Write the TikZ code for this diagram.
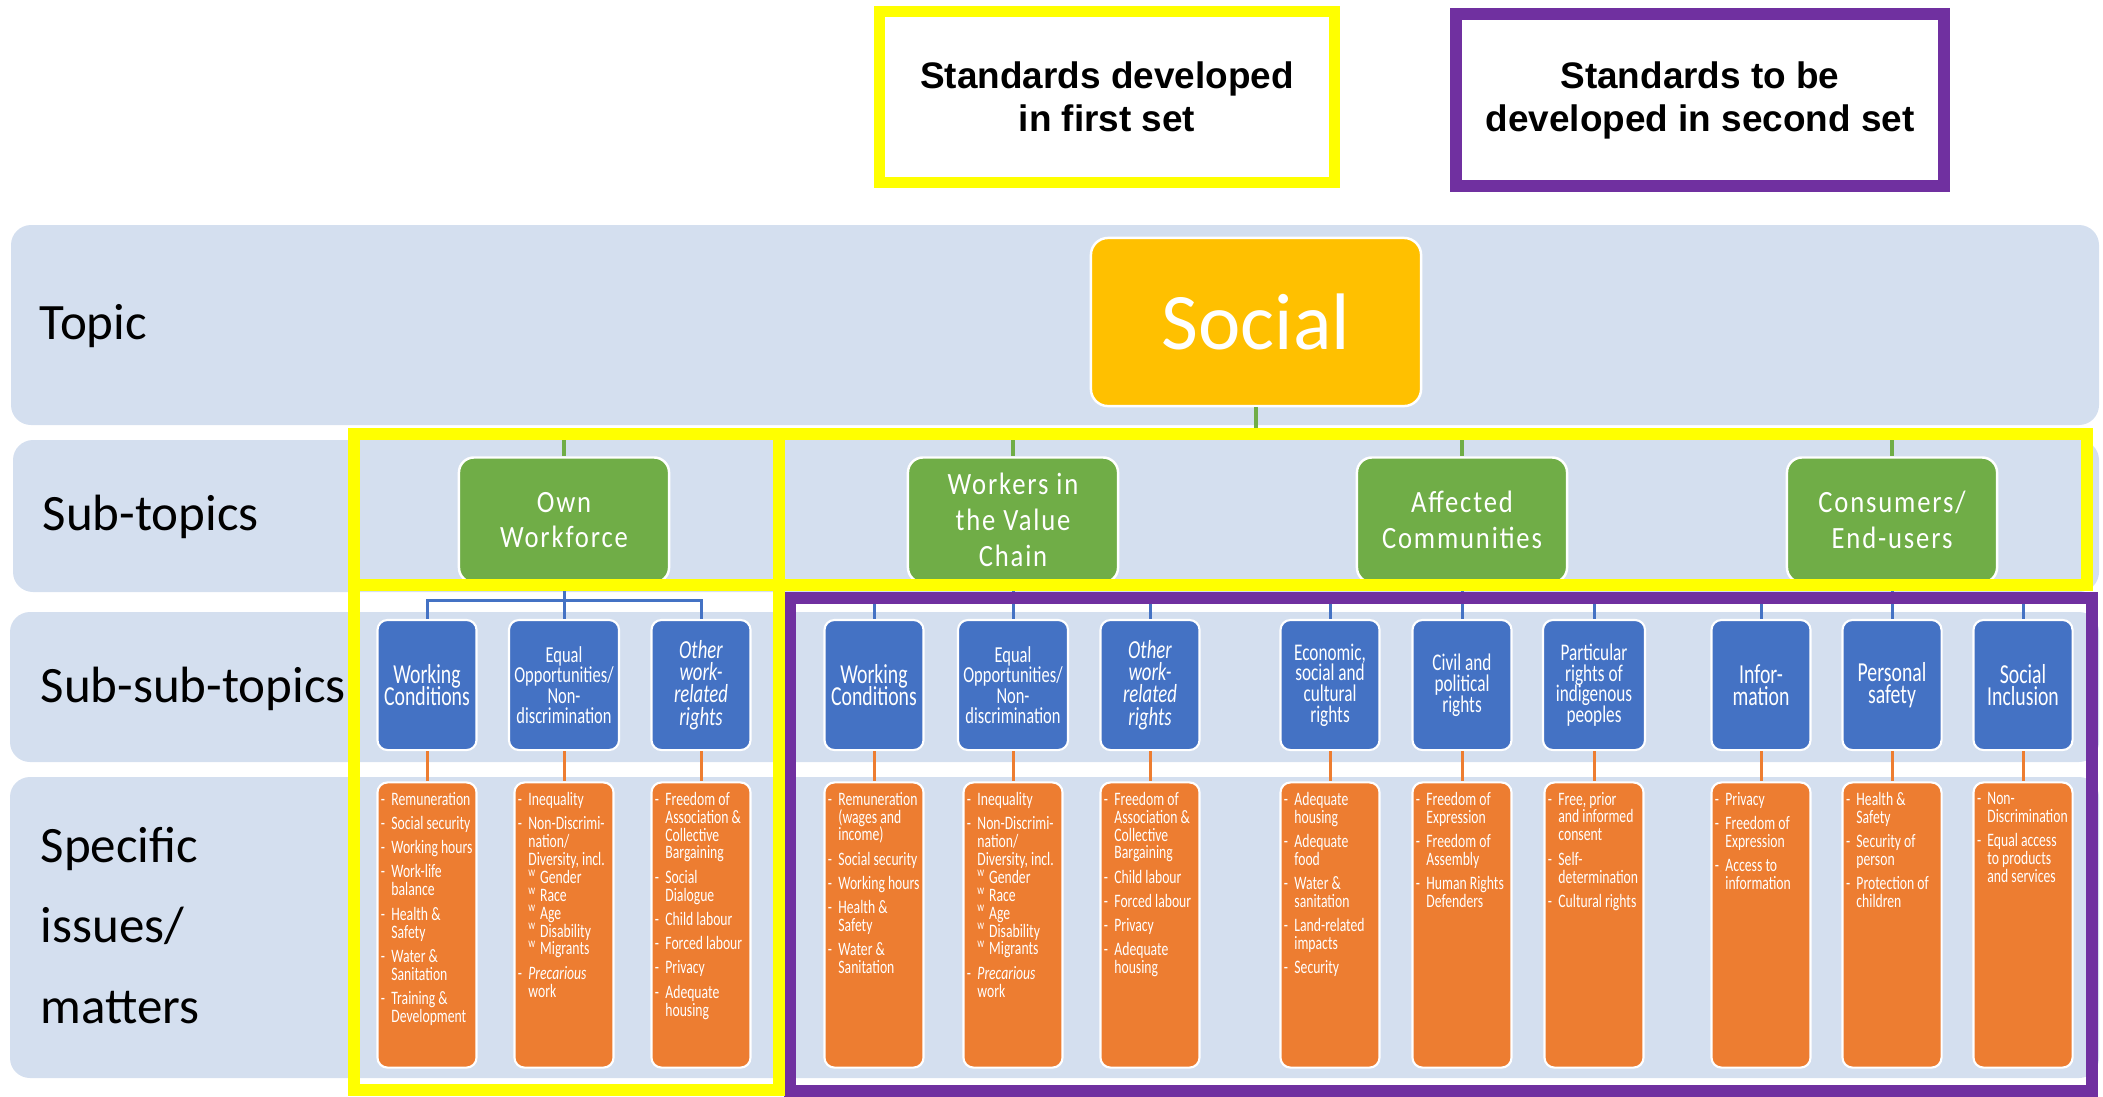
\documentclass[tikz,border=0pt]{standalone}
\usepackage{fontspec}
\setmainfont{Carlito}
\newfontfamily\legendfont{Liberation Sans}
\newfontfamily\narrowfont[FakeStretch=0.72]{Carlito}
\newfontfamily\spacedfont[FakeStretch=0.86,LetterSpace=6]{Carlito}

\definecolor{bandblue}{RGB}{212,223,239}
\definecolor{topicgold}{RGB}{255,192,0}
\definecolor{subgreen}{RGB}{112,173,71}
\definecolor{subblue}{RGB}{68,114,196}
\definecolor{issorange}{RGB}{237,125,49}
\definecolor{firstyellow}{RGB}{255,255,0}
\definecolor{secondpurple}{RGB}{112,48,160}

\newcommand{\issdash}{\makebox[0.55em][l]{-}}
\newcommand{\isscont}{\hspace*{0.55em}}
\newcommand{\issmark}{\textsuperscript{w}\,}
\newcommand{\issgap}{\\[1.8pt]}
\newcommand{\issuelist}[1]{\makebox[0.92cm][l]{\parbox[c][2.66cm][t]{1.6cm}{\narrowfont
  \fontsize{5.4}{5.1}\selectfont\lineskiplimit=-10pt\raggedright #1}}}

\begin{document}
\begin{tikzpicture}[x=0.01cm, y=-0.01cm,
  band/.style={fill=bandblue, rounded corners=0.2cm},
  rowlabel/.style={anchor=base west, inner sep=0, align=left, font={\fontsize{14.5}{22.8}\selectfont}},
  legendbox/.style={draw, fill=white, align=center, minimum height=1.7cm,
    font={\legendfont\bfseries\fontsize{10.5}{12.2}\selectfont}},
  topicbox/.style={fill=topicgold, draw=white, line width=0.7pt, rounded corners=0.17cm,
    minimum width=3.3cm, minimum height=1.68cm, text=white, font={\fontsize{22.8}{27}\selectfont}},
  subbox/.style={fill=subgreen, draw=white, line width=0.7pt, rounded corners=0.15cm,
    minimum width=2.1cm, minimum height=1.25cm, text=white, align=center,
    font={\spacedfont\fontsize{8.8}{10.2}\selectfont}},
  subsubbox/.style={fill=subblue, draw=white, line width=0.6pt, rounded corners=0.1cm,
    minimum width=0.99cm, minimum height=1.3cm, inner sep=0.02cm, text=white, align=center,
    font={\narrowfont\fontsize{6.8}{5.9}\selectfont\lineskiplimit=-10pt}},
  bigsst/.style={font={\narrowfont\fontsize{7.8}{6.4}\selectfont\lineskiplimit=-10pt}},
  eqopp/.style={minimum width=1.1cm, font={\narrowfont\fontsize{6.5}{5.8}\selectfont\lineskiplimit=-10pt}},
  otherrights/.style={font={\narrowfont\itshape\fontsize{7.4}{6.3}\selectfont\lineskiplimit=-10pt}},
  issuebox/.style={fill=issorange, draw=white, line width=0.6pt, rounded corners=0.1cm,
    inner xsep=0.035cm, inner ysep=0.095cm, minimum width=0.99cm, text=white},
  toplink/.style={draw=subgreen, line width=0.04cm},
  sublink/.style={draw=subblue, line width=0.03cm},
  isslink/.style={draw=issorange, line width=0.03cm},
  setframe/.style={line width=0.115cm}]
\useasboundingbox (0,0) rectangle (2103,1096);

% rows
\fill[band] (11,225) rectangle (2099,425);
\fill[band] (13,440) rectangle (2099,592);
\fill[band] (10,612) rectangle (2099,762);
\fill[band] (10,777) rectangle (2099,1078);

\node[rowlabel] (lbltopic) at (39,339) {Topic};
\node[rowlabel] (lblsub) at (42,530) {Sub-topics};
\node[rowlabel] (lblsubsub) at (40,702) {Sub-sub-topics};
\node[rowlabel] (lblissues) at (40,1023) {Specific\\issues/\\matters};

% legend
\node[legendbox, draw=firstyellow, line width=0.11cm, minimum width=4.54cm] (firstset) at (1107,97) {Standards developed\\in first set};
\node[legendbox, draw=secondpurple, line width=0.12cm, minimum width=4.88cm, minimum height=1.71cm] (secondset) at (1700,100) {Standards to be\\developed in second set};

% topic and sub-topics
\node[topicbox] (social) at (1256,322) {Social};
\node[subbox] (ownwf) at (564,520) {Own\\Workforce};
\node[subbox] (valuechain) at (1013,520) {Workers in\\the Value\\Chain};
\node[subbox] (affcomm) at (1462,520) {Affected\\Communities};
\node[subbox] (consumers) at (1892,520) {Consumers/\\End-users};

% sub-sub-topics
\node[subsubbox, bigsst] (sst1) at (427,685) {Working\\Conditions};
\node[subsubbox, eqopp] (sst2) at (564,685) {Equal\\Opportunities/\\Non-\\discrimination};
\node[subsubbox, otherrights] (sst3) at (701,685) {Other\\work-\\related\\rights};
\node[subsubbox, bigsst] (sst4) at (874,685) {Working\\Conditions};
\node[subsubbox, eqopp] (sst5) at (1013,685) {Equal\\Opportunities/\\Non-\\discrimination};
\node[subsubbox, otherrights] (sst6) at (1150,685) {Other\\work-\\related\\rights};
\node[subsubbox] (sst7) at (1330,685) {Economic,\\social and\\cultural\\rights};
\node[subsubbox] (sst8) at (1462,685) {Civil and\\political\\rights};
\node[subsubbox, minimum width=1.02cm] (sst9) at (1594,685) {Particular\\rights of\\indigenous\\peoples};
\node[subsubbox, bigsst] (sst10) at (1761,685) {Infor-\\mation};
\node[subsubbox, bigsst] (sst11) at (1892,685) {Personal\\safety};
\node[subsubbox, bigsst] (sst12) at (2023,685) {Social\\Inclusion};

% specific issues
\node[issuebox] (iss1) at (427,925) {\issuelist{%
\issdash Remuneration\issgap
\issdash Social security\issgap
\issdash Working hours\issgap
\issdash Work-life\\\isscont balance\issgap
\issdash Health \&\\\isscont Safety\issgap
\issdash Water \&\\\isscont Sanitation\issgap
\issdash Training \&\\\isscont Development}};
\node[issuebox] (iss2) at (564,925) {\issuelist{%
\issdash Inequality\issgap
\issdash Non-Discrimi-\\\isscont nation/\\\isscont Diversity, incl.\\\isscont\issmark Gender\\\isscont\issmark Race\\\isscont\issmark Age\\\isscont\issmark Disability\\\isscont\issmark Migrants\issgap
\issdash \textit{Precarious}\\\isscont work}};
\node[issuebox] (iss3) at (701,925) {\issuelist{%
\issdash Freedom of\\\isscont Association \&\\\isscont Collective\\\isscont Bargaining\issgap
\issdash Social\\\isscont Dialogue\issgap
\issdash Child labour\issgap
\issdash Forced labour\issgap
\issdash Privacy\issgap
\issdash Adequate\\\isscont housing}};
\node[issuebox] (iss4) at (874,925) {\issuelist{%
\issdash Remuneration\\\isscont (wages and\\\isscont income)\issgap
\issdash Social security\issgap
\issdash Working hours\issgap
\issdash Health \&\\\isscont Safety\issgap
\issdash Water \&\\\isscont Sanitation}};
\node[issuebox] (iss5) at (1013,925) {\issuelist{%
\issdash Inequality\issgap
\issdash Non-Discrimi-\\\isscont nation/\\\isscont Diversity, incl.\\\isscont\issmark Gender\\\isscont\issmark Race\\\isscont\issmark Age\\\isscont\issmark Disability\\\isscont\issmark Migrants\issgap
\issdash \textit{Precarious}\\\isscont work}};
\node[issuebox] (iss6) at (1150,925) {\issuelist{%
\issdash Freedom of\\\isscont Association \&\\\isscont Collective\\\isscont Bargaining\issgap
\issdash Child labour\issgap
\issdash Forced labour\issgap
\issdash Privacy\issgap
\issdash Adequate\\\isscont housing}};
\node[issuebox] (iss7) at (1330,925) {\issuelist{%
\issdash Adequate\\\isscont housing\issgap
\issdash Adequate\\\isscont food\issgap
\issdash Water \&\\\isscont sanitation\issgap
\issdash Land-related\\\isscont impacts\issgap
\issdash Security}};
\node[issuebox] (iss8) at (1462,925) {\issuelist{%
\issdash Freedom of\\\isscont Expression\issgap
\issdash Freedom of\\\isscont Assembly\issgap
\issdash Human Rights\\\isscont Defenders}};
\node[issuebox] (iss9) at (1594,925) {\issuelist{%
\issdash Free, prior\\\isscont and informed\\\isscont consent\issgap
\issdash Self-\\\isscont determination\issgap
\issdash Cultural rights}};
\node[issuebox] (iss10) at (1761,925) {\issuelist{%
\issdash Privacy\issgap
\issdash Freedom of\\\isscont Expression\issgap
\issdash Access to\\\isscont information}};
\node[issuebox] (iss11) at (1892,925) {\issuelist{%
\issdash Health \&\\\isscont Safety\issgap
\issdash Security of\\\isscont person\issgap
\issdash Protection of\\\isscont children}};
\node[issuebox] (iss12) at (2023,925) {\issuelist{%
\issdash Non-\\\isscont Discrimination\issgap
\issdash Equal access\\\isscont to products\\\isscont and services}};

% connectors
\coordinate (topbar) at (0,434);
\coordinate (subbar) at (0,600);
\foreach \s in {ownwf,valuechain,affcomm,consumers}
  \draw[toplink] (social.south) |- (topbar -| \s.north) -- (\s.north);
\foreach \s/\t in {ownwf/sst1,ownwf/sst2,ownwf/sst3,valuechain/sst4,valuechain/sst5,valuechain/sst6,
    affcomm/sst7,affcomm/sst8,affcomm/sst9,consumers/sst10,consumers/sst11,consumers/sst12}
  \draw[sublink] (\s.south) |- (subbar -| \t.north) -- (\t.north);
\foreach \i in {1,...,12}
  \draw[isslink] (sst\i.south) -- (iss\i.north);

% standard sets
\draw[setframe, secondpurple] (790,598) rectangle (2092,1091);
\draw[setframe, firstyellow] (354,434) rectangle (779,1090);
\draw[setframe, firstyellow] (354,434) rectangle (2087,585);

\end{tikzpicture}
\end{document}
